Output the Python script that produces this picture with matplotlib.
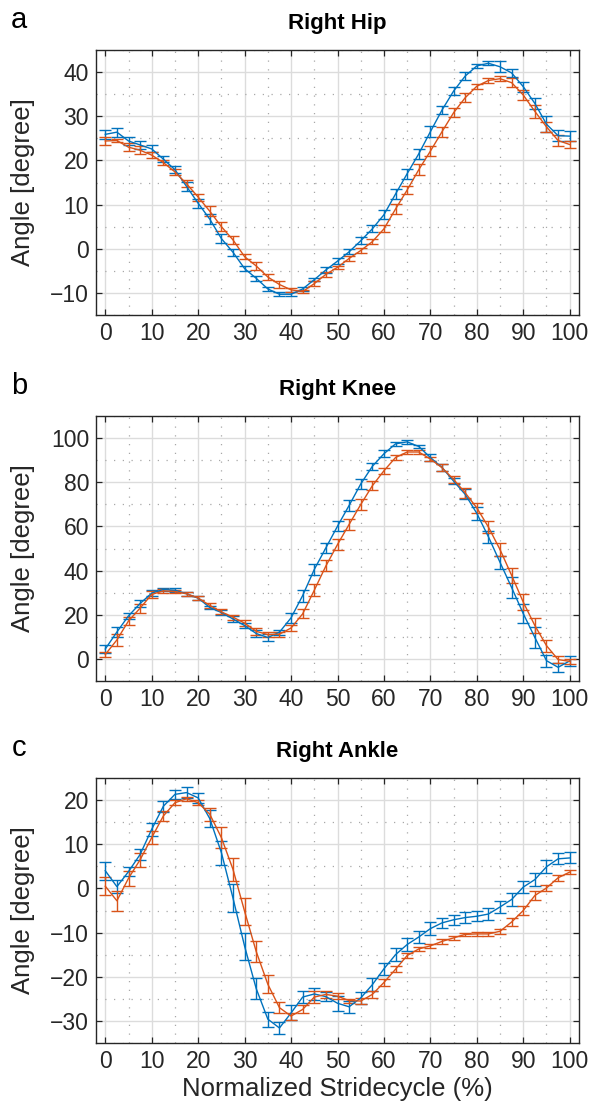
import numpy as np
import matplotlib
matplotlib.use("Agg")
import matplotlib.pyplot as plt
from matplotlib.ticker import MultipleLocator

plt.rcParams['font.family'] = ['Liberation Sans', 'DejaVu Sans']

# Normalized stride cycle positions (%)
stride = np.arange(0, 100.01, 2.5)

# ---------------- Right Hip ----------------
hip_blue = [25.9, 26.4, 24.4, 23.5, 22.6, 20.3, 17.9, 14.1, 10.3, 6.7, 2.3, -0.8, -4.5, -6.7, -9.1, -10.3,
            -10.3, -9.1, -7.0, -4.8, -2.8, -0.7, 1.8, 4.5, 7.7, 12.4, 17.0, 21.5, 26.5, 31.4, 35.7, 39.1,
            41.4, 42.0, 41.2, 39.8, 36.7, 32.9, 28.2, 25.6, 25.5]
hip_blue_err = [1.1, 1.0, 0.9, 0.9, 0.8, 0.6, 0.8, 1.0, 1.0, 1.2, 1.0, 0.8, 0.6, 0.6, 0.5, 0.4,
                0.4, 0.5, 0.4, 0.6, 0.6, 0.6, 0.8, 0.8, 1.0, 1.2, 1.1, 1.1, 1.25, 1.0, 1.0, 1.0,
                0.5, 0.45, 1.2, 0.9, 1.1, 1.2, 1.8, 1.2, 1.1]
hip_orange = [24.4, 24.5, 23.0, 22.3, 21.2, 19.5, 17.4, 14.7, 11.7, 8.5, 5.0, 2.0, -1.8, -3.9, -6.4, -8.1,
              -9.3, -9.7, -7.9, -5.8, -4.2, -2.2, -0.4, 1.6, 4.5, 9.0, 13.3, 17.9, 22.1, 26.5, 30.8, 34.2,
              36.8, 38.1, 38.5, 37.6, 34.8, 31.1, 27.6, 24.5, 23.6]
hip_orange_err = [0.9, 0.4, 0.9, 0.9, 0.7, 0.6, 0.7, 0.8, 0.8, 1.1, 1.0, 1.0, 0.6, 0.8, 0.6, 0.7,
                  0.5, 0.3, 0.6, 0.5, 0.4, 0.6, 0.5, 0.6, 0.8, 1.2, 1.0, 1.2, 1.1, 1.1, 1.0, 1.0,
                  0.6, 0.5, 0.6, 1.0, 1.2, 1.4, 1.2, 1.2, 0.9]

# ---------------- Right Knee ----------------
knee_blue = [4.5, 12.2, 19.5, 25.1, 29.8, 31.4, 31.1, 29.5, 27.5, 23.3, 21.0, 18.1, 15.1, 11.5, 9.7, 12.1,
             18.6, 28.7, 40.5, 50.3, 60.1, 69.5, 79.2, 87.2, 92.9, 97.4, 98.3, 96.2, 91.2, 86.7, 80.5, 74.5,
             65.9, 55.3, 43.7, 32.3, 20.5, 9.7, -0.8, -3.8, -0.9]
knee_blue_err = [2.0, 2.1, 1.4, 1.4, 1.2, 0.8, 0.8, 0.9, 1.0, 0.7, 1.0, 1.2, 1.2, 1.4, 1.4, 1.2,
                 2.3, 2.7, 2.3, 2.3, 2.3, 2.3, 2.2, 1.7, 1.5, 0.9, 0.8, 0.7, 1.7, 1.7, 1.2, 2.3,
                 2.9, 2.6, 3.0, 4.8, 4.4, 4.8, 2.7, 2.0, 2.2]
knee_orange = [2.0, 8.6, 17.2, 23.0, 29.2, 30.8, 30.5, 29.5, 27.6, 24.2, 21.3, 18.9, 16.2, 12.5, 11.0, 11.2,
               14.0, 20.4, 31.1, 42.1, 51.8, 60.9, 69.9, 78.4, 85.2, 91.2, 93.7, 93.7, 90.5, 86.6, 81.3, 75.2,
               68.4, 59.7, 49.5, 37.8, 25.7, 15.1, 6.0, -0.3, -1.1]
knee_orange_err = [1.1, 2.7, 1.7, 2.0, 1.6, 1.0, 0.7, 0.9, 0.8, 1.2, 1.1, 1.2, 1.2, 1.6, 1.2, 1.1,
                   1.2, 2.0, 2.6, 2.5, 2.3, 2.3, 2.3, 2.1, 1.4, 1.1, 0.8, 0.8, 1.0, 1.6, 1.6, 2.3,
                   2.3, 2.7, 3.1, 3.5, 3.5, 3.5, 2.7, 1.6, 1.2]

# ---------------- Right Ankle ----------------
ankle_blue = [4.0, 0.4, 3.8, 7.7, 13.4, 18.6, 21.3, 21.7, 20.5, 15.8, 8.1, -2.2, -13.1, -22.7, -29.6, -31.6,
              -28.2, -24.6, -23.9, -24.5, -26.0, -26.8, -24.8, -21.8, -18.2, -15.0, -12.7, -11.0, -9.1, -7.8, -7.1, -6.6,
              -6.3, -5.8, -4.2, -2.5, 0.3, 2.0, 4.9, 6.7, 6.9]
ankle_blue_err = [2.0, 1.4, 1.1, 1.2, 1.5, 1.3, 1.0, 1.2, 1.1, 2.0, 2.7, 3.25, 3.1, 2.4, 1.7, 1.4,
                  1.7, 1.4, 1.4, 1.1, 1.7, 1.3, 1.4, 1.5, 1.4, 1.5, 1.4, 1.4, 1.4, 1.2, 1.1, 1.2,
                  1.1, 1.3, 1.4, 1.4, 1.3, 1.4, 1.5, 1.25, 1.25]
ankle_orange = [0.5, -2.8, 2.3, 6.5, 11.5, 16.4, 19.4, 20.3, 19.4, 16.8, 11.5, 4.3, -5.2, -14.3, -21.7, -27.0,
                -28.9, -27.4, -24.6, -24.0, -24.4, -25.4, -25.5, -24.0, -21.3, -18.3, -15.2, -13.7, -13.0, -12.0, -11.2, -10.4,
                -10.3, -10.3, -9.7, -7.6, -5.0, -1.6, 0.1, 2.4, 3.7]
ankle_orange_err = [2.1, 2.2, 1.7, 1.6, 1.5, 1.2, 0.6, 0.5, 0.6, 1.5, 2.3, 2.6, 3.0, 2.4, 2.0, 1.3,
                    0.8, 0.9, 1.3, 0.8, 0.75, 0.45, 0.6, 0.8, 0.9, 0.7, 0.6, 0.5, 0.5, 0.5, 0.4, 0.4,
                    0.5, 0.5, 0.6, 0.8, 1.0, 1.1, 0.7, 0.7, 0.5]

titles = ["Right Hip", "Right Knee", "Right Ankle"]
panel_letters = ["a", "b", "c"]
x_ticks = list(range(0, 101, 10))
ylims = [(-15, 45), (-10, 110), (-35, 25)]
y_major = [10, 20, 10]
y_minor = [5, 10, 5]

BLUE = "#0072BD"
ORANGE = "#D95319"
DARK = "#262626"

W, H = 590, 1108
fig = plt.figure(figsize=(W / 100, H / 100), dpi=100)

ax_left, ax_right = 96, 579
ax_tops = [50, 416, 778]
ax_h = 265

data = [
    (hip_blue, hip_blue_err, hip_orange, hip_orange_err),
    (knee_blue, knee_blue_err, knee_orange, knee_orange_err),
    (ankle_blue, ankle_blue_err, ankle_orange, ankle_orange_err),
]

for i in range(3):
    top = ax_tops[i]
    ax = fig.add_axes([ax_left / W, 1 - (top + ax_h) / H, (ax_right - ax_left) / W, ax_h / H])
    b, be, o, oe = data[i]
    for y, e, c in ((b, be, BLUE), (o, oe, ORANGE)):
        ax.errorbar(stride, y, yerr=e, color=c, lw=1.0, elinewidth=1.0,
                    capsize=4.2, capthick=1.0, zorder=3)
    ax.set_xlim(-2, 102)
    ax.set_ylim(*ylims[i])
    ax.set_xticks(x_ticks)
    ax.xaxis.set_minor_locator(MultipleLocator(5))
    ax.yaxis.set_major_locator(MultipleLocator(y_major[i]))
    ax.yaxis.set_minor_locator(MultipleLocator(y_minor[i]))
    ax.set_ylim(*ylims[i])
    ax.grid(True, which='major', color='#dcdcdc', lw=1.0, ls='-', zorder=0)
    ax.grid(True, which='minor', color='#a8a8a8', lw=0.9, ls=(0, (1, 6)), zorder=0)
    ax.set_axisbelow(True)
    ax.tick_params(which='major', direction='in', length=4.5, width=0.9, top=True, right=True,
                   labelsize=16.5, colors=DARK, pad=5)
    ax.tick_params(which='minor', length=0, top=True, right=True)
    for s in ax.spines.values():
        s.set_color(DARK)
        s.set_linewidth(1.0)
    ax.set_ylabel("Angle [degree]", fontsize=18.5, color=DARK, va='center')
    ax.yaxis.set_label_coords((23 - ax_left) / (ax_right - ax_left), 0.5)
    fig.text((ax_left + ax_right) / 2 / W, 1 - (top - 27) / H, titles[i],
             ha='center', va='center', fontsize=16, fontweight='bold', color='black')
    fig.text(19 / W, 1 - (top - 30) / H, panel_letters[i], ha='center', va='center',
             fontsize=21, color='black')
    if i == 2:
        ax.set_xlabel("Normalized Stridecycle (%)", fontsize=18.5, color=DARK)
        ax.xaxis.set_label_coords(0.5, -(1089 - (top + ax_h)) / ax_h)
        ax.xaxis.label.set_va('center')

fig.savefig("out.png", dpi=100)
